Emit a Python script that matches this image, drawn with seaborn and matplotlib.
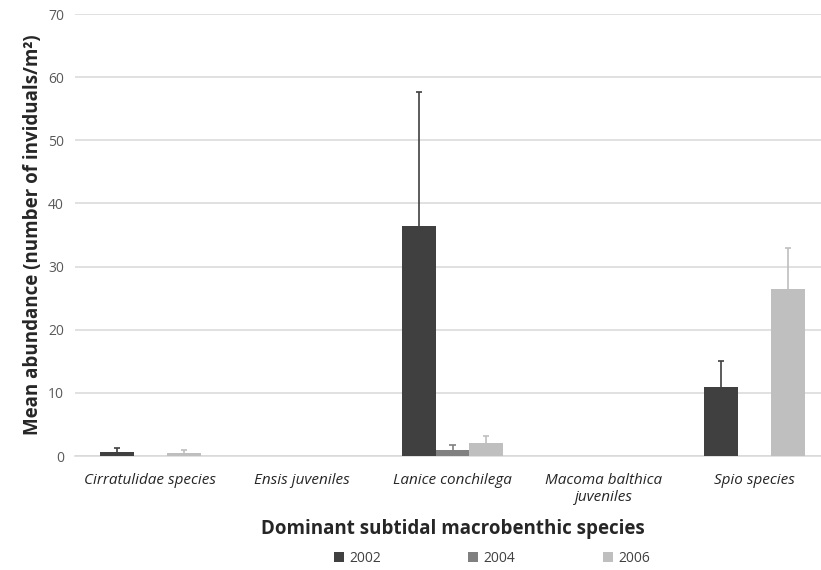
import matplotlib
matplotlib.use("Agg")
import matplotlib.pyplot as plt
import seaborn as sns
import pandas as pd
import numpy as np

species = ["Cirratulidae species", "Ensis juveniles", "Lanice conchilega",
           "Macoma balthica\njuveniles", "Spio species"]
years = ["2002", "2004", "2006"]
mean_2002 = [0.6, 0.0, 36.4, 0.0, 11.0]
mean_2004 = [0.0, 0.0, 1.0, 0.0, 0.0]
mean_2006 = [0.4, 0.0, 2.0, 0.0, 26.5]
err_2002 = [0.7, 0.0, 21.2, 0.0, 4.0]
err_2004 = [0.0, 0.0, 0.8, 0.0, 0.0]
err_2006 = [0.5, 0.0, 1.1, 0.0, 6.5]

colors = ["#404040", "#808080", "#bfbfbf"]
err_colors = ["#404040", "#808080", "#bfbfbf"]

means = [mean_2002, mean_2004, mean_2006]
errs = [err_2002, err_2004, err_2006]
rows = []
for y, m in zip(years, means):
    for s, v in zip(species, m):
        rows.append({"species": s, "year": y, "mean": v})
df = pd.DataFrame(rows)

sns.set_style("white")
plt.rcParams['font.family'] = ['Open Sans', 'DejaVu Sans']

fig = plt.figure(figsize=(8.21, 5.70), dpi=100)
ax = fig.add_axes([75/821, 114/570, 755/821, 442/570])

sns.barplot(data=df, x="species", y="mean", hue="year", order=species,
            hue_order=years, palette=colors, width=0.667, gap=0,
            errorbar=None, ax=ax, zorder=3, linewidth=0, saturation=1)

for cont, e, ec in zip(ax.containers, errs, err_colors):
    for p, ev in zip(cont.patches, e):
        if ev > 0:
            xc = p.get_x() + p.get_width() / 2
            h = p.get_height()
            ax.vlines(xc, h, h + ev, color=ec, linewidth=1.2, zorder=4)
            ax.hlines(h + ev, xc - 0.02, xc + 0.02, color=ec, linewidth=1.2, zorder=4)

ax.set_ylim(0, 70)
ax.set_xlim(-0.5, 4.5)
ax.set_yticks(np.arange(0, 71, 10))
ax.yaxis.grid(True, color="#d9d9d9", linewidth=1.1, zorder=0)
ax.set_axisbelow(True)
for side in ["top", "right", "left"]:
    ax.spines[side].set_visible(False)
ax.spines["bottom"].set_color("#d9d9d9")
ax.spines["bottom"].set_linewidth(1.1)
ax.tick_params(axis="y", length=0, labelsize=10, labelcolor="#595959", pad=8)
ax.set_xticks([-0.5, 0.5, 1.5, 2.5, 3.5, 4.5], minor=True)
ax.set_xticks(range(5))
ax.set_xticklabels(species, fontstyle="italic", fontsize=11, color="#262626")
ax.tick_params(axis="x", which="major", length=0, pad=12)
ax.tick_params(axis="x", which="minor", length=5, color="#d9d9d9", width=1.1)

ax.set_ylabel("Mean abundance (number of inviduals/m²)", fontsize=13.5,
              fontweight="bold")
ax.yaxis.set_label_coords(-32/755, 0.5)
ax.set_xlabel("Dominant subtidal macrobenthic species", fontsize=13.5,
              fontweight="bold", labelpad=10)

handles, labels = ax.get_legend_handles_labels()
ax.legend_.remove() if ax.legend_ else None
leg = fig.legend(handles, labels, loc="center", bbox_to_anchor=(492/821, 1 - 558/570),
                 ncol=3, frameon=False, fontsize=10, handlelength=0.7,
                 handleheight=0.7, columnspacing=6.3, handletextpad=0.4)
for t in leg.get_texts():
    t.set_color("#404040")

fig.savefig("out.png", dpi=100)
